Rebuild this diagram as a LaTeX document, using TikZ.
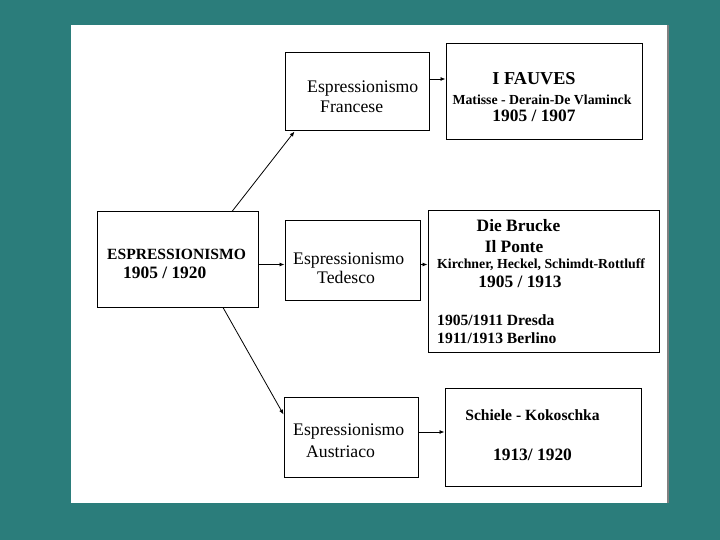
\documentclass[tikz,border=0pt]{standalone}
\usepackage{fontspec}
\setmainfont{Liberation Serif}
\usetikzlibrary{arrows.meta}
\definecolor{sfondo}{RGB}{43,125,123}
\tikzset{
  box/.style={draw, line width=1pt, inner sep=0pt},
  freccia/.style={-{Latex[length=5pt,width=4pt]}, line width=0.8pt},
  testo/.style={inner sep=0pt, font=\fontsize{17.7}{20}\selectfont},
  grande/.style={inner sep=0pt, font=\fontsize{17.4}{20}\selectfont\bfseries},
  medio/.style={inner sep=0pt, font=\fontsize{15.6}{18}\selectfont\bfseries},
  piccolo/.style={inner sep=0pt, font=\fontsize{13.8}{16}\selectfont\bfseries}
}
\begin{document}
\begin{tikzpicture}[x=1pt,y=-1pt]
				% sfondo e foglio
				\fill[sfondo] (0,0) rectangle (720,540);
				\fill[white] (71,25) rectangle (669,503);
				\draw[gray, line width=1.5pt] (668,25) -- (668,503);
				
				% riquadri
				\node[box, minimum width=161pt, minimum height=95pt] (espr) at (177.5,259.5) {};
				\node[box, minimum width=144pt, minimum height=78pt] (fran) at (357,92) {};
				\node[box, minimum width=196pt, minimum height=96pt] (fauv) at (544,92) {};
				\node[box, minimum width=135pt, minimum height=79pt] (tede) at (352.5,260.5) {};
				\node[box, minimum width=231pt, minimum height=141pt] (bruc) at (543.5,281.5) {};
				\node[box, minimum width=134pt, minimum height=80pt] (aust) at (351,437) {};
				\node[box, minimum width=196pt, minimum height=98pt] (koko) at (543,437) {};
				
				% testi
				\node[medio, anchor=base west] (t1) at (107,259) {ESPRESSIONISMO};
				\node[grande, anchor=base west] (t2) at (123,278) {1905 / 1920};
				
				\node[testo, anchor=base west] (t3) at (307,93) {Espressionismo};
				\node[testo, anchor=base west] (t4) at (320,113) {Francese};
				\node[grande, anchor=base] (t5) at (534,85) {\fontsize{18.2}{20}\selectfont I FAUVES};
				\node[piccolo, anchor=base] (t6) at (542,105) {Matisse - Derain-De Vlaminck};
				\node[grande, anchor=base] (t7) at (534,122) {1905 / 1907};
				
				\node[testo, anchor=base west] (t8) at (293,264) {Espressionismo};
				\node[testo, anchor=base west] (t9) at (317,283) {Tedesco};
				\node[grande, anchor=base] (t10) at (518.5,232) {Die Brucke};
				\node[grande, anchor=base] (t11) at (514,252) {Il Ponte};
				\node[piccolo, anchor=base west] (t12) at (437,268) {Kirchner, Heckel, Schimdt-Rottluff};
				\node[grande, anchor=base] (t13) at (520,287) {1905 / 1913};
				\node[medio, anchor=base west] (t14) at (437,325) {1905/1911 Dresda};
				\node[medio, anchor=base west] (t15) at (437,343) {1911/1913 Berlino};
				
				\node[testo, anchor=base west] (t16) at (293,435) {Espressionismo};
				\node[testo, anchor=base west] (t17) at (306,457) {Austriaco};
				\node[medio, anchor=base] (t18) at (532.5,420) {Schiele - Kokoschka};
				\node[grande, anchor=base] (t19) at (532.5,460) {1913/ 1920};
				
				% frecce
				\draw[freccia] ([xshift=54.5pt]espr.north) -- ([xshift=10pt]fran.south west);
				\draw[freccia] ([xshift=45.5pt]espr.south) -- ([yshift=-18pt]aust.north west);
				\draw[freccia] ([yshift=-5pt]espr.east) -- ([yshift=-5pt]espr.east -| tede.west);
				\draw[freccia] ([yshift=13pt]fran.east) -- ([yshift=13pt]fran.east -| fauv.west);
				\draw[freccia] ([yshift=-4pt]tede.east) -- ([yshift=-4pt]tede.east -| bruc.west);
				\draw[freccia] ([yshift=5pt]aust.east) -- ([yshift=5pt]aust.east -| koko.west);
\end{tikzpicture}
\end{document}
